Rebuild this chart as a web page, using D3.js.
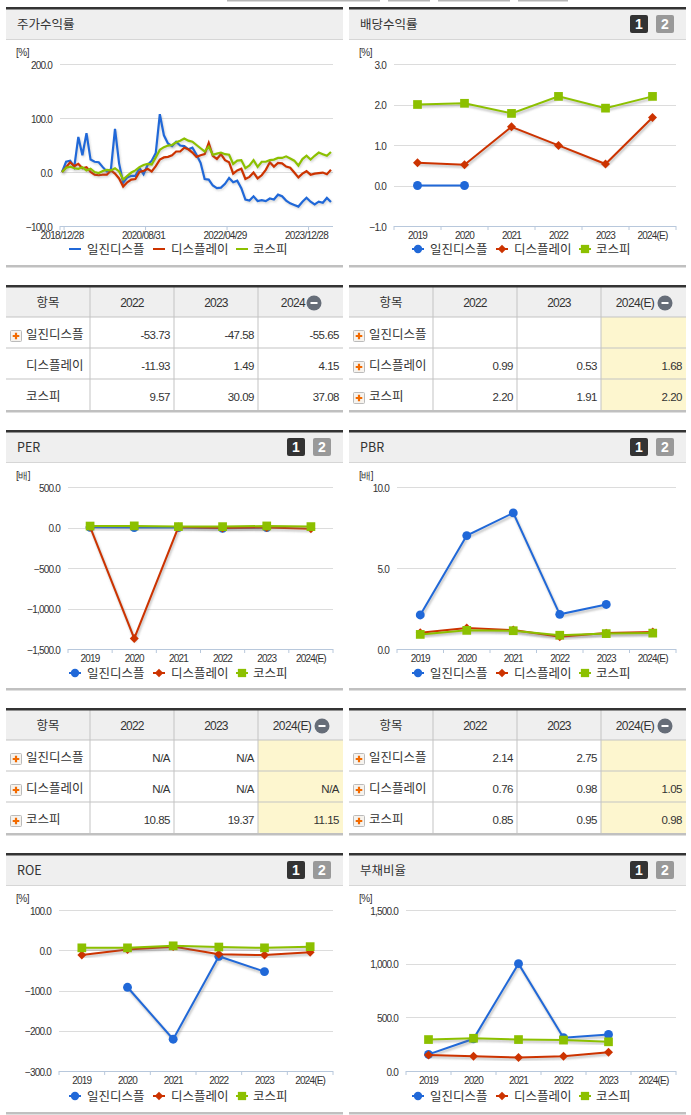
<!DOCTYPE html>
<html>
<head>
<meta charset="utf-8">
<script src="https://cdnjs.cloudflare.com/ajax/libs/d3/7.8.5/d3.min.js"></script>
<style>
html, body { margin: 0; padding: 0; background: #fff; overflow: hidden; }
text { font-family: "Liberation Sans", Arial, sans-serif; fill: #333; }
.kr { font-family: "Noto Sans CJK KR", "Noto Sans", sans-serif; font-size: 12.5px; }
.tick { font-size: 10px; letter-spacing: -0.8px; }
.num { font-size: 11.5px; letter-spacing: -0.5px; }
</style>
</head>
<body>
<div id="my_dataviz"></div>
<script>
// series names
var seriesNames = ["일진디스플", "디스플레이", "코스피"];
var years = ["2019", "2020", "2021", "2022", "2023", "2024(E)"];

// monthly return, 2018/12 - 2024/06
var priceIljin = [0,19,21,9,65,31,72,23,19,18,9,1,5,80,16,-20,-10,-7,-7,7,-4,13,21,35,107,68,53,48,56,49,48,42,45,32,17,-13,-14,-25,-30,-29,-22,-11,-19,-16,-30,-51,-53,-45,-53.73,-52,-54,-49,-51,-42,-45,-53,-58,-61,-64,-55,-47.58,-55,-60,-55,-57,-48,-55.65];
var priceDisplay = [0,9,18,11,15,7,9,0,-5,-6,-5,-5,3,-3,-12,-27,-19,-14,-13,0,2,6,1,11,23,27,28,31,38,38,45,42,36,28,31,33,54,30,24,33,22,18,-3,3,6,-13,-9,-1,-11.93,-6,4,18,10,17,16,10,8,-1,-10,-3,1.49,-5,-3,-2,-1,-4,4.15];
var priceKospi = [0,8,10,7,6,9,3,6,0,-2,2,4,3,7,1,-14,-7,-1,3,9,13,15,14,27,41,46,49,50,55,58,62,58,56,50,44,38,47,32,34,36,33,32,15,21,22,7,12,22,9.57,19,19,22,23,26,26,29,25,21,12,24,30.09,23,30,36,33,30,37.08];
var priceLabels = ["2018/12/28", "2020/08/31", "2022/04/29", "2023/12/28"];

// yearly charts
var divIljin = [0, 0, null, null, null, null];
var divDisplay = [0.56, 0.51, 1.45, 0.99, 0.53, 1.68];
var divKospi = [2.0, 2.03, 1.78, 2.20, 1.91, 2.20];

var perIljin = [2, 0, 0, -10, 0, null];
var perDisplay = [8, -1370, 5, -5, 0, -15];
var perKospi = [18, 20, 11, 10.85, 19.37, 11.15];

var pbrIljin = [2.1, 7.0, 8.4, 2.14, 2.75, null];
var pbrDisplay = [1.0, 1.3, 1.17, 0.76, 0.98, 1.05];
var pbrKospi = [0.9, 1.15, 1.13, 0.85, 0.95, 0.98];

var roeIljin = [null, -92, -221, -15, -53, null];
var roeDisplay = [-12, 2, 9, -10, -12, -5];
var roeKospi = [6, 6, 11, 8, 6, 9];

var debtIljin = [155, 300, 1000, 310, 340, null];
var debtDisplay = [148, 138, 125, 138, 175, null];
var debtKospi = [293, 305, 293, 288, 272, null];

// table contents
var tablePrice = [["-53.73", "-47.58", "-55.65"], ["-11.93", "1.49", "4.15"], ["9.57", "30.09", "37.08"]];
var tableDiv = [["", "", ""], ["0.99", "0.53", "1.68"], ["2.20", "1.91", "2.20"]];
var tablePer = [["N/A", "N/A", ""], ["N/A", "N/A", "N/A"], ["10.85", "19.37", "11.15"]];
var tablePbr = [["2.14", "2.75", ""], ["0.76", "0.98", "1.05"], ["0.85", "0.95", "0.98"]];

var colors = ["#2068d8", "#cc3300", "#8cc000"];

// wide diamond, d3.symbolDiamond comes out too narrow
var wideDiamond = {
    draw: function(context, size) {
        var r = Math.sqrt(size / 2);
        context.moveTo(0, -r);
        context.lineTo(r, 0);
        context.lineTo(0, r);
        context.lineTo(-r, 0);
        context.closePath();
    }
};
var symbols = [d3.symbolCircle, wideDiamond, d3.symbolSquare];
var symbolSizes = [62, 40, 76];

var svg = d3.select("#my_dataviz").append("svg")
    .attr("width", 691).attr("height", 1115)
    .style("display", "block");

// filter for the soft shadow under the lines
var blur = svg.append("defs").append("filter").attr("id", "soft");
blur.append("feGaussianBlur").attr("stdDeviation", 0.8);

// bits of the tabs cut off at the top of the picture
[[227, 118], [345, 35], [388, 42], [438, 72], [518, 50]].forEach(function(t) {
    svg.append("rect").attr("x", t[0]).attr("y", 0).attr("width", t[1]).attr("height", 1.5).attr("fill", "#b5b5b5");
});

function panelFrame(x, top, bottom, title, buttons) {
    var g = svg.append("g").attr("transform", "translate(" + x + ",0)");
    g.append("rect").attr("x", 6).attr("y", top + 2).attr("width", 337).attr("height", 30).attr("fill", "#efefef");
    g.append("rect").attr("x", 6).attr("y", top).attr("width", 337).attr("height", 2.5).attr("fill", "#333");
    g.append("rect").attr("x", 6).attr("y", top + 32).attr("width", 337).attr("height", 1).attr("fill", "#d6d6d6");
    g.append("rect").attr("x", 6).attr("y", bottom).attr("width", 337).attr("height", 2.5).attr("fill", "#c0c0c0");
    g.append("text").attr("class", "kr").attr("x", 17).attr("y", top + 21.5).text(title);
    if (buttons) {
        [[287, "#333", "1"], [313, "#999", "2"]].forEach(function(b) {
            g.append("rect").attr("x", b[0]).attr("y", top + 8).attr("width", 18).attr("height", 18).attr("rx", 2).attr("fill", b[1]);
            g.append("text").attr("x", b[0] + 9).attr("y", top + 22).attr("text-anchor", "middle")
                .style("font-size", "14px").style("font-weight", "bold").style("fill", "#fff").text(b[2]);
        });
    }
    return g;
}

function drawLegend(g, y, withSymbols) {
    var lineX = [69, 153, 236], textX = [87, 171, 253];
    seriesNames.forEach(function(name, i) {
        g.append("line").attr("x1", lineX[i]).attr("x2", lineX[i] + 12).attr("y1", y).attr("y2", y)
            .attr("stroke", colors[i]).attr("stroke-width", 2);
        if (withSymbols) {
            g.append("path").attr("d", d3.symbol().type(symbols[i]).size(symbolSizes[i] * 0.9))
                .attr("transform", "translate(" + (lineX[i] + 6) + "," + y + ")").attr("fill", colors[i]);
        }
        g.append("text").attr("class", "kr").attr("x", textX[i]).attr("y", y + 4.5).text(name);
    });
}

function yAxis(g, y, ticks, left, fmt) {
    var right = 333;
    g.selectAll(null).data(ticks.slice(0, -1)).enter().append("line")
        .attr("x1", left).attr("x2", right)
        .attr("y1", function(d) { return Math.round(y(d)) + 0.5; })
        .attr("y2", function(d) { return Math.round(y(d)) + 0.5; })
        .attr("stroke", "#dcdcdc");
    g.selectAll(null).data(ticks).enter().append("text")
        .attr("class", "tick")
        .attr("x", left - 8).attr("text-anchor", "end")
        .attr("y", function(d) { return y(d) + 4.5; })
        .text(fmt);
}

function lineChart(g, cfg, series) {
    var top = cfg.y0, bottom = cfg.y1;
    var x = d3.scaleBand().domain(years).range([cfg.left, 333]);
    var y = d3.scaleLinear().domain(cfg.domain).range([bottom, top]);
    var fmt = d3.format(",.1f");

    g.append("text").attr("x", 16).attr("y", cfg.unitY).style("font-size", "10px").style("letter-spacing", "-0.5px").text(cfg.unit);
    yAxis(g, y, cfg.ticks, cfg.left, fmt);

    // bottom axis, ticks on the band edges
    g.append("line").attr("x1", cfg.left).attr("x2", 333).attr("y1", bottom + 0.5).attr("y2", bottom + 0.5).attr("stroke", "#b8c8dc");
    g.selectAll(null).data(years.concat(["end"])).enter().append("line")
        .attr("x1", function(d) { return d === "end" ? 333 : x(d); })
        .attr("x2", function(d) { return d === "end" ? 333 : x(d); })
        .attr("y1", bottom).attr("y2", bottom + 4).attr("stroke", "#b8c8dc");
    g.selectAll(null).data(years).enter().append("text").attr("class", "tick")
        .attr("x", function(d) { return x(d) + x.bandwidth() / 2; })
        .attr("y", bottom + 13).attr("text-anchor", "middle").text(function(d) { return d; });

    var line = d3.line()
        .defined(function(d) { return d !== null; })
        .x(function(d, i) { return x(years[i]) + x.bandwidth() / 2; })
        .y(function(d) { return y(d); });

    series.forEach(function(values, s) {
        g.append("path").attr("d", line(values)).attr("fill", "none").attr("stroke", "#777").attr("stroke-opacity", 0.5)
            .attr("stroke-width", 2).attr("transform", "translate(1,2)").attr("filter", "url(#soft)");
        g.append("path").attr("d", line(values)).attr("fill", "none").attr("stroke", colors[s]).attr("stroke-width", 2);
        g.selectAll(null).data(values.map(function(v, i) { return {v: v, i: i}; }).filter(function(d) { return d.v !== null; }))
            .enter().append("path")
            .attr("d", d3.symbol().type(symbols[s]).size(symbolSizes[s]))
            .attr("transform", function(d) { return "translate(" + (x(years[d.i]) + x.bandwidth() / 2) + "," + y(d.v) + ")"; })
            .attr("fill", colors[s]);
    });
    drawLegend(g, cfg.legendY, true);
}

function priceChart(g) {
    var months = priceIljin.map(function(d, i) { return i; });
    var x = d3.scaleBand().domain(months).range([60, 333]);
    var y = d3.scaleLinear().domain([-100, 200]).range([226, 64]);
    var fmt = d3.format(",.1f");
    g.append("text").attr("x", 16).attr("y", 56).style("font-size", "10px").style("letter-spacing", "-0.5px").text("[%]");
    yAxis(g, y, [200, 100, 0, -100], 60, fmt);

    g.append("line").attr("x1", 60).attr("x2", 333).attr("y1", 226.5).attr("y2", 226.5).attr("stroke", "#b8c8dc");
    [0, 1, 21, 41, 61].forEach(function(m) {
        g.append("line").attr("x1", x(m)).attr("x2", x(m)).attr("y1", 226).attr("y2", 230).attr("stroke", "#b8c8dc");
    });
    priceLabels.forEach(function(label, i) {
        g.append("text").attr("x", x(i * 20) + x.bandwidth() / 2).attr("y", 239)
            .attr("text-anchor", "middle").attr("class", "tick").style("letter-spacing", "-0.7px").text(label);
    });

    var line = d3.line()
        .x(function(d, i) { return x(i) + x.bandwidth() / 2; })
        .y(function(d) { return y(d); });
    [priceIljin, priceDisplay, priceKospi].forEach(function(values, s) {
        g.append("path").attr("d", line(values)).attr("fill", "none").attr("stroke", "#777").attr("stroke-opacity", 0.35)
            .attr("stroke-width", 2).attr("transform", "translate(1,1.5)").attr("filter", "url(#soft)");
        g.append("path").attr("d", line(values)).attr("fill", "none").attr("stroke", colors[s]).attr("stroke-width", 2.2);
    });
    drawLegend(g, 249, false);
}

function drawTable(x, top, lastHead, rows, opts) {
    var g = svg.append("g").attr("transform", "translate(" + x + ",0)");
    var cols = [6, 90, 174, 258, 343];
    var rowY = [top + 32, top + 63, top + 94, top + 125];
    g.append("rect").attr("x", 6).attr("y", top + 2).attr("width", 337).attr("height", 30).attr("fill", "#efefef");
    if (opts.yellow) {
        g.append("rect").attr("x", 258).attr("y", rowY[0]).attr("width", 85).attr("height", 93).attr("fill", "#fdf6cf");
    }
    rowY.slice(0, 3).forEach(function(y) {
        g.append("rect").attr("x", 6).attr("y", y - 0.5).attr("width", 337).attr("height", 1).attr("fill", "#c4c4c4");
    });
    cols.slice(1, 4).forEach(function(c) {
        g.append("rect").attr("x", c - 0.5).attr("y", top + 2).attr("width", 1).attr("height", 123).attr("fill", "#c4c4c4");
    });
    g.append("rect").attr("x", 6).attr("y", top).attr("width", 337).attr("height", 2.5).attr("fill", "#333");
    g.append("rect").attr("x", 6).attr("y", top + 125).attr("width", 337).attr("height", 2.5).attr("fill", "#c0c0c0");

    var headY = top + 22;
    g.append("text").attr("class", "kr").attr("x", 48).attr("y", headY).attr("text-anchor", "middle").text("항목");
    ["2022", "2023"].forEach(function(h, i) {
        g.append("text").attr("x", 132 + i * 84).attr("y", headY).attr("text-anchor", "middle")
            .style("font-size", "12px").style("letter-spacing", "-0.8px").text(h);
    });
    var isE = lastHead.length > 4;
    g.append("text").attr("x", isE ? 292 : 293).attr("y", headY).attr("text-anchor", "middle")
        .style("font-size", "12px").style("letter-spacing", "-0.6px").text(lastHead);
    var cx = isE ? 322 : 314;
    g.append("circle").attr("cx", cx).attr("cy", top + 18).attr("r", 7.5).attr("fill", "#666d78");
    g.append("rect").attr("x", cx - 3.5).attr("y", top + 17).attr("width", 7).attr("height", 2).attr("fill", "#fff");

    seriesNames.forEach(function(name, r) {
        var cy = rowY[r] + 18;
        if (opts.icons[r]) {
            g.append("rect").attr("x", 10.5).attr("y", cy - 4.5).attr("width", 11).attr("height", 11).attr("rx", 1)
                .attr("fill", "#f6f3ee").attr("stroke", "#bbb");
            g.append("path").attr("d", d3.symbol().type(d3.symbolCross).size(24))
                .attr("transform", "translate(16," + (cy + 1) + ")").attr("fill", "#f26a00");
        }
        g.append("text").attr("class", "kr").attr("x", 26).attr("y", cy + 3.5).text(name);
        rows[r].forEach(function(v, c) {
            g.append("text").attr("class", "num").attr("x", cols[c + 2] - 4).attr("y", cy + 4)
                .attr("text-anchor", "end").text(v);
        });
    });
}

// row 1
priceChart(panelFrame(0, 7, 265, "주가수익률", false));
lineChart(panelFrame(343, 7, 265, "배당수익률", true),
    {left: 51, y0: 64, y1: 226, domain: [-1, 3], ticks: [3, 2, 1, 0, -1], unit: "[%]", unitY: 56, legendY: 249},
    [divIljin, divDisplay, divKospi]);
drawTable(0, 285, "2024", tablePrice, {yellow: false, icons: [true, false, false]});
drawTable(343, 285, "2024(E)", tableDiv, {yellow: true, icons: [true, true, true]});

// row 2
lineChart(panelFrame(0, 430, 688, "PER", true),
    {left: 68, y0: 487, y1: 649, domain: [-1500, 500], ticks: [500, 0, -500, -1000, -1500], unit: "[배]", unitY: 479, legendY: 673},
    [perIljin, perDisplay, perKospi]);
lineChart(panelFrame(343, 430, 688, "PBR", true),
    {left: 54, y0: 487, y1: 649, domain: [0, 10], ticks: [10, 5, 0], unit: "[배]", unitY: 479, legendY: 673},
    [pbrIljin, pbrDisplay, pbrKospi]);
drawTable(0, 708, "2024(E)", tablePer, {yellow: true, icons: [true, true, true]});
drawTable(343, 708, "2024(E)", tablePbr, {yellow: true, icons: [true, true, true]});

// row 3
lineChart(panelFrame(0, 853, 1112, "ROE", true),
    {left: 59, y0: 910, y1: 1071, domain: [-300, 100], ticks: [100, 0, -100, -200, -300], unit: "[%]", unitY: 902, legendY: 1096},
    [roeIljin, roeDisplay, roeKospi]);
lineChart(panelFrame(343, 853, 1112, "부채비율", true),
    {left: 63, y0: 910, y1: 1071, domain: [0, 1500], ticks: [1500, 1000, 500, 0], unit: "[%]", unitY: 902, legendY: 1096},
    [debtIljin, debtDisplay, debtKospi]);
</script>
</body>
</html>
